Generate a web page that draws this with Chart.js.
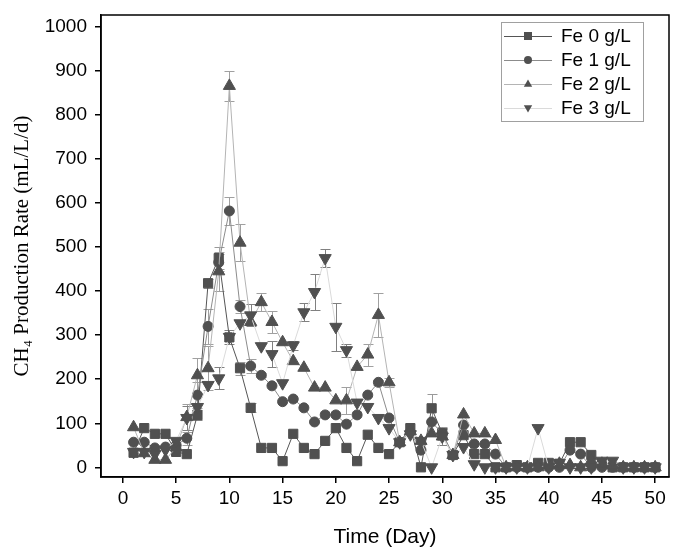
<!DOCTYPE html>
<html>
<head>
<meta charset="utf-8">
<script src="https://cdn.jsdelivr.net/npm/chart.js@4.4.0/dist/chart.umd.min.js"></script>
<style>
html, body { margin: 0; padding: 0; background: #fff; }
#wrap { width: 677px; height: 555px; }
</style>
</head>
<body>
<div id="wrap"><canvas id="myChart"></canvas></div>
<script>
// days of operation
var days = [1, 2, 3, 4, 5, 6, 7, 8, 9, 10, 11, 12, 13, 14, 15, 16, 17, 18, 19, 20,
            21, 22, 23, 24, 25, 26, 27, 28, 29, 30, 31, 32, 33, 34, 35, 36, 37, 38, 39, 40,
            41, 42, 43, 44, 45, 46, 47, 48, 49, 50];

// CH4 production rate (mL/L/d)
var fe0 = [33, 89, 76, 76, 35, 30, 119, 418, 475, 295, 225, 135, 44, 44, 14, 76, 44, 30, 60, 89,
           44, 14, 74, 44, 30, 57, 89, 0, 134, 77, 28, 73, 30, 30, 0, 0, 5, 0, 10, 10,
           8, 57, 57, 28, 8, 0, 0, 0, 0, 0];
var fe1 = [57, 57, 44, 46, 50, 66, 164, 320, 465, 582, 365, 230, 209, 185, 149, 155, 135, 103, 119, 119,
           98, 119, 164, 193, 112, 57, 80, 39, 103, 77, 28, 96, 53, 53, 30, 0, 0, 0, 0, 0,
           0, 39, 30, 0, 0, 0, 0, 0, 0, 0];
var fe2 = [91, 32, 17, 17, 45, 114, 209, 225, 445, 866, 510, 330, 375, 330, 284, 241, 226, 181, 181, 152,
           152, 228, 256, 346, 193, 57, 82, 60, 77, 70, 28, 120, 77, 77, 62, 0, 0, 0, 0, 5,
           8, 5, 0, 15, 8, 5, 0, 0, 0, 0];
var fe3 = [35, 35, 30, 40, 60, 112, 137, 187, 202, 296, 327, 345, 275, 257, 191, 277, 352, 398, 475, 319,
           266, 147, 137, 112, 89, 57, 75, 60, 0, 70, 28, 46, 7, 0, 0, 0, 0, 0, 89, 0,
           10, 0, 0, 0, 15, 15, 0, 0, 0, 0];

// standard deviations
var fe0Err = [0, 0, 0, 0, 0, 0, 10, 10, 25, 0, 15, 10, 0, 0, 0, 0, 0, 0, 0, 0,
              0, 0, 0, 0, 0, 0, 0, 0, 32, 15, 0, 0, 0, 0, 0, 0, 0, 0, 0, 0,
              0, 0, 0, 0, 0, 0, 0, 0, 0, 0];
var fe1Err = [0, 0, 0, 0, 0, 15, 30, 40, 20, 32, 15, 15, 5, 0, 0, 0, 0, 0, 0, 0,
              0, 0, 0, 5, 0, 0, 0, 0, 0, 10, 0, 0, 0, 0, 0, 0, 0, 0, 0, 0,
              0, 0, 0, 0, 0, 0, 0, 0, 0, 0];
var fe2Err = [0, 0, 0, 0, 0, 30, 40, 50, 45, 34, 42, 0, 20, 25, 0, 0, 0, 0, 0, 0,
              30, 0, 25, 50, 10, 0, 0, 0, 0, 20, 0, 0, 0, 0, 0, 0, 0, 0, 0, 0,
              0, 0, 0, 0, 0, 0, 0, 0, 0, 0];
var fe3Err = [0, 0, 0, 0, 0, 28, 30, 0, 25, 15, 0, 25, 0, 30, 0, 10, 20, 41, 20, 55,
              15, 0, 0, 0, 0, 0, 0, 0, 0, 20, 0, 0, 0, 0, 0, 0, 0, 0, 0, 0,
              0, 0, 0, 0, 0, 0, 0, 0, 0, 0];

var seriesNames = ['Fe 0 g/L', 'Fe 1 g/L', 'Fe 2 g/L', 'Fe 3 g/L'];
var xTicks = [0, 5, 10, 15, 20, 25, 30, 35, 40, 45, 50];
var yTicks = [0, 100, 200, 300, 400, 500, 600, 700, 800, 900, 1000];

var markColor = '#505050';
var tickFont = { family: '"Liberation Sans", Arial, sans-serif', size: 19 };

function pts(vals) {
  return days.map(function (d, i) { return { x: d, y: vals[i] }; });
}

function makeSet(i, vals, errs, lineColor, style, rot, r, errColor) {
  return {
    label: seriesNames[i],
    data: pts(vals),
    errors: errs,
    errorColor: errColor,
    borderColor: lineColor,
    borderWidth: 1,
    pointStyle: style,
    rotation: rot,
    pointRadius: r,
    pointBackgroundColor: markColor,
    pointBorderColor: markColor,
    pointBorderWidth: 1,
    tension: 0,
    order: 4 - i
  };
}

// error bars drawn behind the markers
var errorBars = {
  id: 'errorBars',
  beforeDatasetsDraw: function (chart) {
    var ctx = chart.ctx, xs = chart.scales.x, ys = chart.scales.y;
    ctx.save();
    ctx.lineWidth = 1;
    chart.data.datasets.forEach(function (ds) {
      ctx.strokeStyle = ds.errorColor;
      ds.errors.forEach(function (e, j) {
        if (!e) return;
        var p = ds.data[j];
        var px = Math.round(xs.getPixelForValue(p.x)) + 0.5;
        var top = Math.round(ys.getPixelForValue(p.y + e)) + 0.5;
        var bot = Math.round(ys.getPixelForValue(p.y - e)) + 0.5;
        ctx.beginPath();
        ctx.moveTo(px, top); ctx.lineTo(px, bot);
        ctx.moveTo(px - 5, top); ctx.lineTo(px + 5, top);
        ctx.moveTo(px - 5, bot); ctx.lineTo(px + 5, bot);
        ctx.stroke();
      });
    });
    ctx.restore();
  }
};

// closed frame around the plot
var frame = {
  id: 'frame',
  afterDraw: function (chart) {
    var a = chart.chartArea, ctx = chart.ctx;
    ctx.save();
    ctx.strokeStyle = '#000';
    ctx.lineWidth = 1.5;
    ctx.strokeRect(a.left, a.top, a.right - a.left, a.bottom - a.top);
    ctx.restore();
  }
};

function drawMark(ctx, style, x, y, r) {
  ctx.beginPath();
  if (style === 'rect') {
    ctx.rect(x - r, y - r, 2 * r, 2 * r);
  } else if (style === 'circle') {
    ctx.arc(x, y, r, 0, Math.PI * 2);
  } else if (style === 'up') {
    ctx.moveTo(x, y - r * 1.1); ctx.lineTo(x + r * 1.05, y + r * 0.7); ctx.lineTo(x - r * 1.05, y + r * 0.7);
  } else {
    ctx.moveTo(x, y + r * 1.1); ctx.lineTo(x + r * 1.05, y - r * 0.7); ctx.lineTo(x - r * 1.05, y - r * 0.7);
  }
  ctx.closePath();
  ctx.fill();
}

// legend in a grey box, line + marker samples
var legendBox = {
  id: 'legendBox',
  afterDraw: function (chart) {
    var a = chart.chartArea, ctx = chart.ctx;
    var bx = a.right - 168, by = a.top + 7, bw = 142, bh = 99;
    var styles = ['rect', 'circle', 'up', 'down'];
    ctx.save();
    ctx.strokeStyle = '#a0a0a0';
    ctx.lineWidth = 1;
    ctx.strokeRect(bx + 0.5, by + 0.5, bw, bh);
    chart.data.datasets.forEach(function (ds, i) {
      var y = by + 14 + i * 24;
      ctx.strokeStyle = ds.borderColor;
      ctx.beginPath();
      ctx.moveTo(bx + 3, y + 0.5); ctx.lineTo(bx + 51, y + 0.5);
      ctx.stroke();
      ctx.fillStyle = markColor;
      drawMark(ctx, styles[i], bx + 27, y, 4);
      ctx.fillStyle = '#000';
      ctx.font = '19px "Liberation Sans", Arial, sans-serif';
      ctx.textBaseline = 'middle';
      ctx.fillText(ds.label, bx + 60, y + 1);
    });
    ctx.restore();
  }
};

var ctx = document.getElementById('myChart').getContext('2d');
var myChart = new Chart(ctx, {
  type: 'line',
  data: {
    datasets: [
      makeSet(0, fe0, fe0Err, '#555555', 'rect', 0, 6.5, '#9a9a9a'),
      makeSet(1, fe1, fe1Err, '#8c8c8c', 'circle', 0, 5, '#a0a0a0'),
      makeSet(2, fe2, fe2Err, '#b4b4b4', 'triangle', 0, 7, '#a0a0a0'),
      makeSet(3, fe3, fe3Err, '#dadada', 'triangle', 180, 7, '#808080')
    ]
  },
  options: {
    responsive: true,
    maintainAspectRatio: false,
    animation: false,
    layout: { padding: { top: 15, right: 8, left: 0, bottom: 0 } },
    plugins: {
      legend: { display: false },
      tooltip: { enabled: false }
    },
    scales: {
      x: {
        type: 'linear',
        min: -2.06,
        max: 51.3,
        afterBuildTicks: function (s) { s.ticks = xTicks.map(function (v) { return { value: v }; }); },
        afterFit: function (s) { s.height = 78; s.paddingLeft = 0; s.paddingRight = 0; },
        grid: { display: true, drawOnChartArea: false, drawTicks: true, tickLength: 6, color: '#000', lineWidth: 1.5 },
        border: { display: true, color: '#000', width: 1.5 },
        ticks: { color: '#000', font: tickFont, padding: 4, maxRotation: 0, callback: function (v) { return String(v); } },
        title: {
          display: true,
          text: 'Time (Day)',
          color: '#000',
          font: { family: '"Liberation Sans", Arial, sans-serif', size: 21 },
          padding: { top: 0, bottom: 5 }
        }
      },
      y: {
        min: -22,
        max: 1027,
        afterBuildTicks: function (s) { s.ticks = yTicks.map(function (v) { return { value: v }; }); },
        afterFit: function (s) { s.width = 101; s.paddingTop = 0; s.paddingBottom = 0; },
        grid: { display: true, drawOnChartArea: false, drawTicks: true, tickLength: 6, color: '#000', lineWidth: 1.5 },
        border: { display: true, color: '#000', width: 1.5 },
        ticks: { color: '#000', font: tickFont, padding: 8, callback: function (v) { return String(v); } },
        title: {
          display: true,
          text: 'CH\u2084 Production Rate (mL/L/d)',
          color: '#000',
          font: { family: '"Liberation Serif", "Times New Roman", serif', size: 21 },
          padding: { top: 10, bottom: 0 }
        }
      }
    }
  },
  plugins: [errorBars, frame, legendBox]
});
</script>
</body>
</html>
